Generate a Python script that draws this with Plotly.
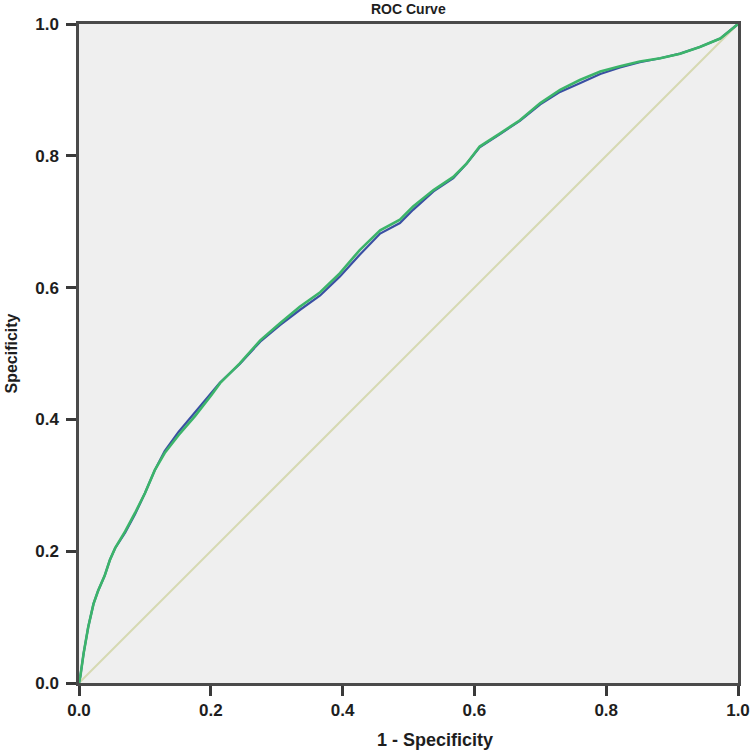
import plotly.graph_objects as go

# ROC curve points (1 - specificity on x)
fpr = [0.0, 0.002, 0.007, 0.014, 0.022, 0.029, 0.039, 0.047, 0.055, 0.070,
       0.085, 0.100, 0.115, 0.130, 0.151, 0.176, 0.201, 0.214, 0.244, 0.275,
       0.305, 0.335, 0.366, 0.396, 0.426, 0.457, 0.487, 0.507, 0.538, 0.568,
       0.588, 0.608, 0.639, 0.669, 0.700, 0.730, 0.760, 0.791, 0.821, 0.851,
       0.882, 0.912, 0.942, 0.973, 0.995, 1.0]

green_y = [0.0, 0.010, 0.045, 0.085, 0.120, 0.140, 0.163, 0.187, 0.205, 0.230,
           0.258, 0.288, 0.323, 0.349, 0.376, 0.405, 0.437, 0.455, 0.485, 0.520,
           0.546, 0.571, 0.593, 0.622, 0.657, 0.687, 0.703, 0.723, 0.748, 0.768,
           0.788, 0.814, 0.834, 0.854, 0.880, 0.900, 0.915, 0.928, 0.936, 0.943,
           0.948, 0.955, 0.965, 0.978, 0.996, 1.0]

blue_y = [0.0, 0.010, 0.045, 0.085, 0.120, 0.140, 0.163, 0.187, 0.205, 0.228,
          0.256, 0.288, 0.323, 0.352, 0.381, 0.411, 0.441, 0.456, 0.484, 0.518,
          0.543, 0.566, 0.588, 0.617, 0.650, 0.682, 0.698, 0.718, 0.746, 0.766,
          0.788, 0.813, 0.833, 0.853, 0.878, 0.897, 0.910, 0.924, 0.934, 0.942,
          0.948, 0.955, 0.965, 0.978, 0.996, 1.0]

ref_x = [0.0, 1.0]
ref_y = [0.0, 1.0]

tick_vals = [0.0, 0.2, 0.4, 0.6, 0.8, 1.0]
tick_text = ["0.0", "0.2", "0.4", "0.6", "0.8", "1.0"]

FONT = "Liberation Sans"

fig = go.Figure()

# reference diagonal
fig.add_trace(go.Scatter(x=ref_x, y=ref_y, mode="lines",
                         line=dict(color="#d6d9b2", width=2), showlegend=False))
fig.add_trace(go.Scatter(x=fpr, y=blue_y, mode="lines",
                         line=dict(color="#3a4fa3", width=2.2), showlegend=False))
fig.add_trace(go.Scatter(x=fpr, y=green_y, mode="lines",
                         line=dict(color="#3cb46a", width=2.6), showlegend=False))

axis_style = dict(
    range=[0, 1], tickvals=tick_vals, ticktext=tick_text,
    showgrid=False, zeroline=False, automargin=False,
    showline=True, linecolor="#4a4a4a", linewidth=2.5, mirror=True,
    ticks="outside", ticklen=10, tickwidth=2.5, tickcolor="#3a3a3a",
    tickfont=dict(family=FONT, size=17, color="#1e1e1e", weight="bold"),
)

fig.update_xaxes(**axis_style)
fig.update_yaxes(**axis_style, ticklabelstandoff=4,
                 title=dict(text="Specificity", standoff=14,
                            font=dict(family=FONT, size=16, color="#1e1e1e", weight="bold")))

# x title sits a little right of the axis centre in the original
fig.add_annotation(text="1 - Specificity", xref="paper", yref="paper",
                   x=0.54, y=-0.086, xanchor="center", yanchor="middle",
                   showarrow=False,
                   font=dict(family=FONT, size=18, color="#1e1e1e", weight="bold"))

fig.update_layout(
    width=752, height=752,
    margin=dict(l=79, r=14, t=24, b=69),
    paper_bgcolor="white",
    plot_bgcolor="#efefef",
    title=dict(text="ROC Curve", x=0.543, xanchor="center",
               y=1 - 9 / 752, yanchor="middle",
               font=dict(family=FONT, size=14, color="#1e1e1e", weight="bold")),
)

# drop the default page margin so the figure sits at the window's corner
fig.write_html("out.html", config={"displayModeBar": False},
               post_script="document.body.style.margin='0';")
